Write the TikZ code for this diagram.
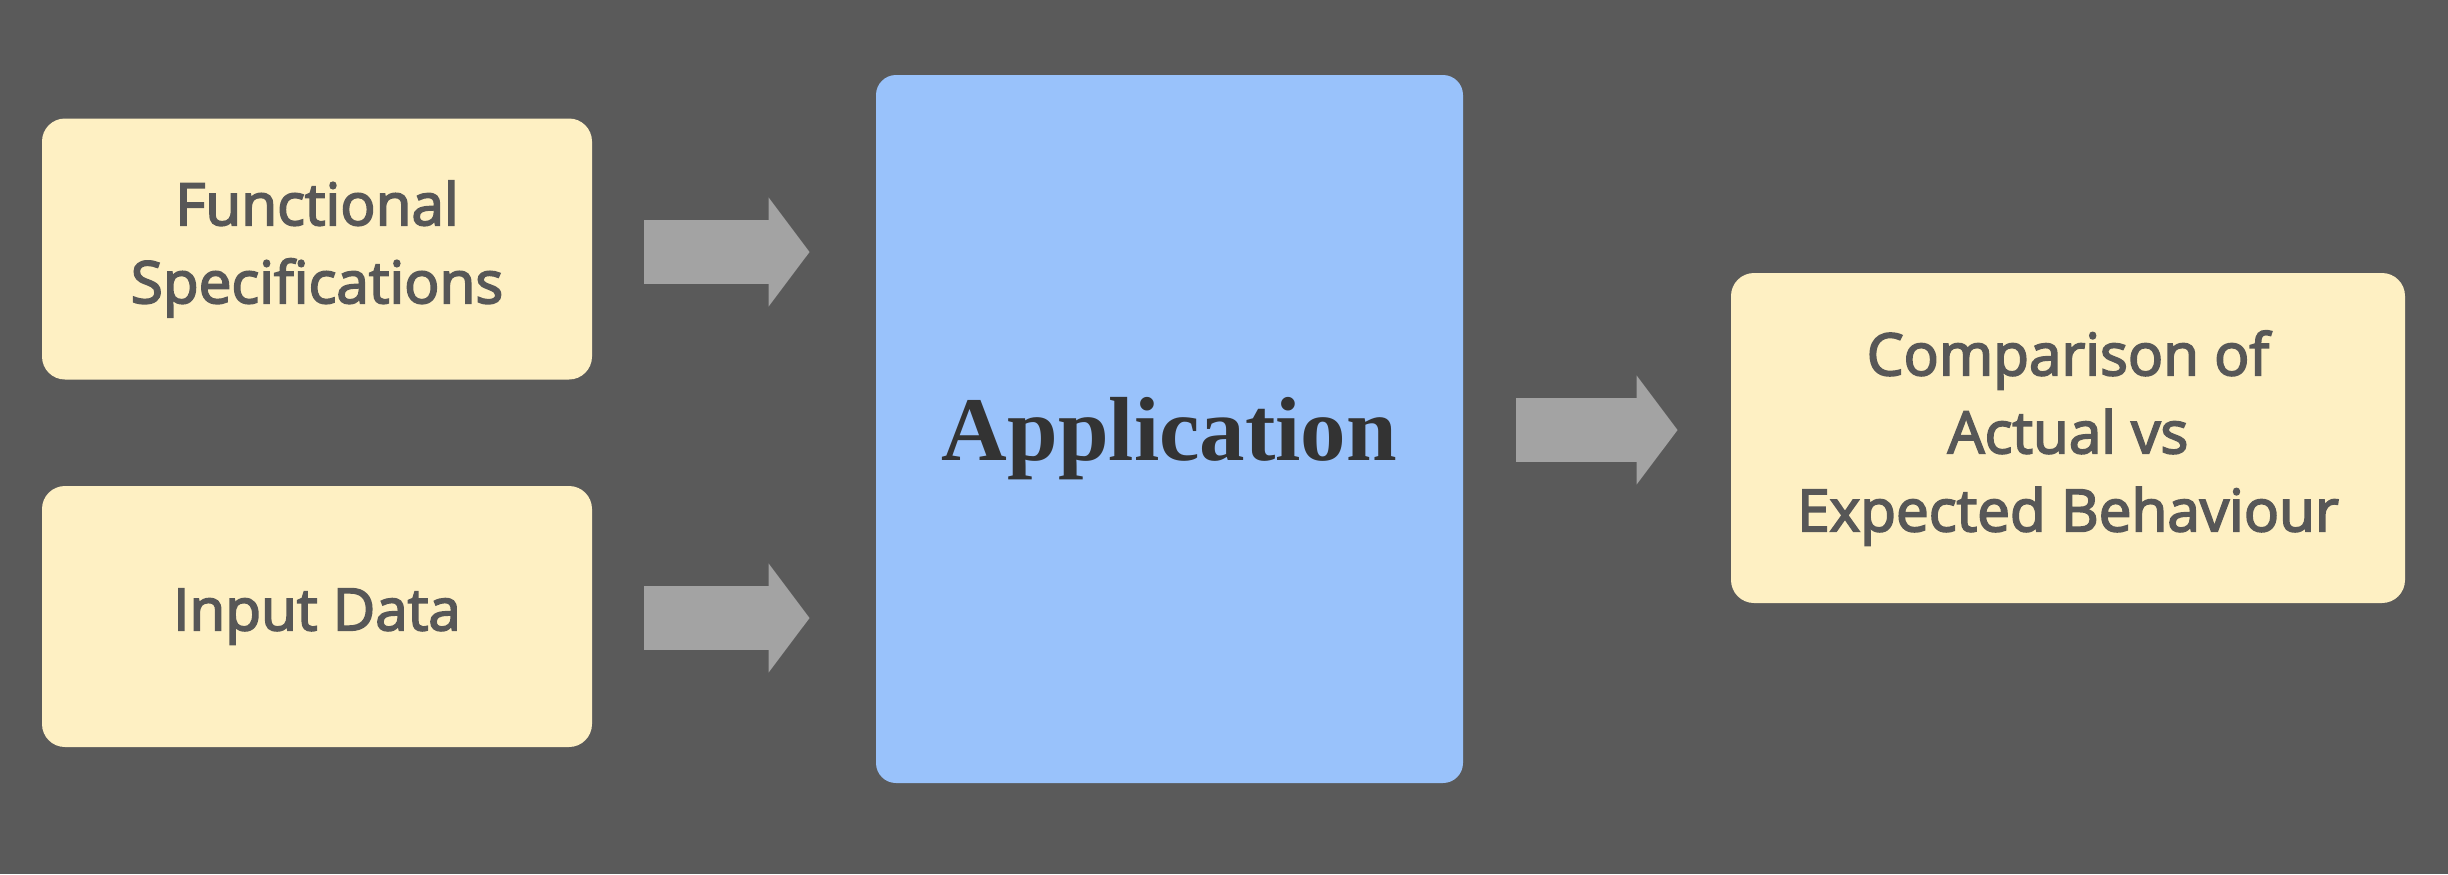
\documentclass[tikz,border=0pt]{standalone}
\usepackage{fontspec}
\setmainfont{Open Sans}
\newfontfamily\boxfont{Open Sans}[FakeBold=3]
\newfontfamily\appfont{Liberation Serif}
\usetikzlibrary{arrows.meta}
\definecolor{bg}{HTML}{5A5A5A}
\definecolor{boxyellow}{HTML}{FEF0C3}
\definecolor{boxtext}{HTML}{575757}
\definecolor{appblue}{HTML}{99C2FB}
\definecolor{apptext}{HTML}{333333}
\definecolor{arrowgrey}{HTML}{A3A3A3}
\tikzset{
  ybox/.style={rectangle, rounded corners=11.5pt, fill=boxyellow, text=boxtext,
    font=\boxfont\fontsize{29.2pt}{39pt}\selectfont, align=center, inner sep=0pt},
  appbox/.style={rectangle, rounded corners=10pt, fill=appblue, inner sep=0pt},
  applabel/.style={text=apptext, font=\appfont\bfseries\fontsize{45.5pt}{54pt}\selectfont,
    inner sep=0pt, anchor=base},
  bigarrow/.style={draw=arrowgrey, line width=32pt,
    -{Triangle[length=20.5pt,width=53.5pt]}}
}
\begin{document}
\begin{tikzpicture}[x=0.5pt,y=-0.5pt]
\useasboundingbox (0,0) rectangle (2448,874);
\fill[bg] (0,0) rectangle (2448,874);
\node[ybox, minimum width=275pt, minimum height=130.5pt] (fs) at (317,249) {Functional\\Specifications};
\node[ybox, minimum width=275pt, minimum height=130.5pt] (inp) at (317,616.5) {Input Data};
\node[appbox, minimum width=293.5pt, minimum height=354pt] (app) at (1169.5,429) {};
\node[applabel] (applbl) at (1169.5,460) {Application};
\node[ybox, minimum width=337pt, minimum height=165pt] (cmp) at (2068,438) {Comparison of\\Actual vs\\Expected Behaviour};
\draw[bigarrow, shorten <=26pt, shorten >=33pt] ([yshift=-1.5pt]fs.east) -- ([yshift=-1.5pt]fs.east -| app.west);
\draw[bigarrow, shorten <=26pt, shorten >=33pt] ([yshift=-0.75pt]inp.east) -- ([yshift=-0.75pt]inp.east -| app.west);
\draw[bigarrow, shorten <=26.5pt, shorten >=26.5pt] ([yshift=-0.5pt]app.east) -- ([yshift=-0.5pt]app.east -| cmp.west);
\end{tikzpicture}
\end{document}
